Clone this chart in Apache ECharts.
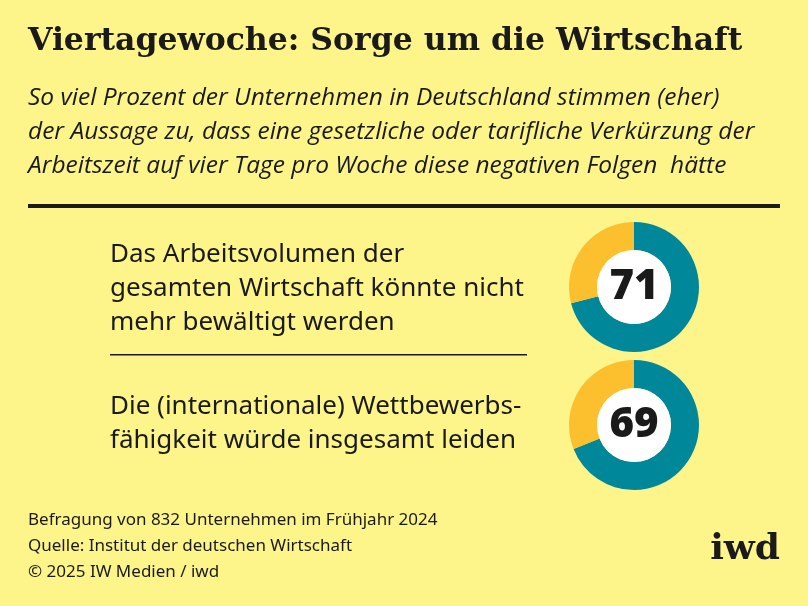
<!DOCTYPE html>
<html><head><meta charset="utf-8">
<script src="https://cdn.jsdelivr.net/npm/echarts@6/dist/echarts.min.js"></script>
<style>html,body{margin:0;padding:0;background:#fdf48a}#main{width:808px;height:606px}</style>
</head><body><div id="main"></div>
<script>
var statements = ['Das Arbeitsvolumen der\ngesamten Wirtschaft könnte nicht\nmehr bewältigt werden',
                  'Die (internationale) Wettbewerbs-\nfähigkeit würde insgesamt leiden'];
var agree = [71, 69];
var centersY = [287, 425];
var labelTop = [238, 390];

var myChart = echarts.init(document.getElementById('main'));

var series = [];
for (var i = 0; i < agree.length; i++) {
    series.push({
        type: 'pie', radius: [37, 65], center: [634, centersY[i]],
        startAngle: 90, silent: true, label: {show: false},
        data: [
            {value: agree[i], itemStyle: {color: '#00889a'}},
            {value: 100 - agree[i], itemStyle: {color: '#fcc02e'}}
        ]
    });
    series.push({
        type: 'pie', radius: [0, 37], center: [634, centersY[i]], silent: true,
        data: [{value: 1, itemStyle: {color: '#ffffff'}}],
        label: {show: true, position: 'center', formatter: String(agree[i]),
            fontFamily: 'Noto Sans', fontWeight: 900, fontSize: 42, color: '#1a1a1a'}
    });
}

var graphic = [
    {type: 'text', left: 28, top: 26, style: {text: 'Viertagewoche: Sorge um die Wirtschaft',
        font: 'bold 31.5px "DejaVu Serif"', fill: '#1a1a1a'}},
    {type: 'text', left: 28, top: 81, style: {text: 'So viel Prozent der Unternehmen in Deutschland stimmen (eher)\nder Aussage zu, dass eine gesetzliche oder tarifliche Verkürzung der\nArbeitszeit auf vier Tage pro Woche diese negativen Folgen  hätte',
        font: 'italic 24.5px "Open Sans"', lineHeight: 34, fill: '#1a1a1a'}},
    {type: 'rect', shape: {x: 28, y: 204, width: 752, height: 4}, style: {fill: '#1a1a1a'}},
    {type: 'rect', shape: {x: 110, y: 354, width: 417, height: 1.5}, style: {fill: '#1a1a1a'}},
    {type: 'text', left: 28, top: 507, style: {text: 'Befragung von 832 Unternehmen im Frühjahr 2024\nQuelle: Institut der deutschen Wirtschaft\n© 2025 IW Medien / iwd',
        font: '17px "Noto Sans"', lineHeight: 26, fill: '#1a1a1a'}},
    {type: 'text', right: 28, top: 532, style: {text: 'iwd', font: 'bold 36px "DejaVu Serif"', fill: '#1a1a1a'}}
];
for (var j = 0; j < statements.length; j++) {
    graphic.push({type: 'text', left: 110, top: labelTop[j], style: {text: statements[j],
        font: '26px "Noto Sans"', lineHeight: 34, fill: '#1a1a1a'}});
}

var option = {
    backgroundColor: '#fdf48a',
    animation: false,
    series: series,
    graphic: graphic
};
myChart.setOption(option);
</script>
</body></html>
